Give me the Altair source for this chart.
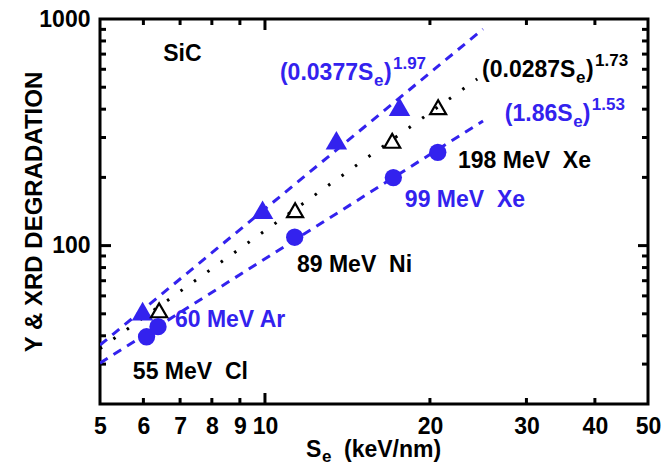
import altair as alt
import pandas as pd

BLUE = "#3322EE"
FONT = "Liberation Sans"

# ---------------- data ----------------
filled_tri_se = [5.98, 9.90, 13.5, 17.6]
filled_tri_y = [51.4, 144.0, 291.5, 410.0]
open_tri_se = [6.41, 11.35, 17.07, 20.7]
open_tri_y = [51.8, 143.3, 290.0, 408.0]
circle_se = [6.08, 6.38, 11.33, 17.15, 20.67]
circle_y = [39.6, 43.9, 108.9, 199.7, 258.0]

fit_upper_se = [5.0, 25.0]
fit_upper_y = [36.4, 903.0]
fit_lower_se = [5.0, 25.0]
fit_lower_y = [30.3, 355.0]
fit_mid_se = [5.0, 24.4]
fit_mid_y = [35.1, 544.0]

x_tick_values = [5, 6, 7, 8, 9, 10, 20, 30, 40, 50]
y_tick_values = [100, 1000]
x_minor_ticks = [6, 7, 8, 9, 20, 30, 40]
x_major_ticks = [10]
y_minor_ticks = [30, 40, 50, 60, 70, 80, 90, 200, 300, 400, 500, 600, 700, 800, 900]
y_major_ticks = [100]

# annotation anchors in data coordinates (Se, Y)
label_sic = (6.52, 653.0)
label_f1 = (10.65, 538.0)
label_f2 = (24.9, 555.0)
label_f3 = (27.4, 355.0)
label_xe198 = (22.5, 220.0)
label_xe99 = (18.0, 148.0)
label_ni89 = (11.44, 76.5)
label_ar60 = (6.85, 43.7)
label_cl55 = (5.74, 25.8)

# ---------------- chart ----------------
W, H = 548, 385
xs = alt.Scale(type="log", domain=[5, 50], nice=False)
ys = alt.Scale(type="log", domain=[20, 1000], nice=False)

xax = alt.Axis(values=x_tick_values, title=None, ticks=False, tickSize=0, domain=False,
               grid=False, labelFont=FONT, labelFontSize=23, labelFontWeight="bold",
               labelColor="black", labelPadding=11, labelFlush=False, labelOverlap=False,
               format="d")
yax = alt.Axis(values=y_tick_values, title="Y & XRD DEGRADATION", titleFont=FONT,
               titleFontSize=24, titleFontWeight="bold", titleColor="black",
               titleX=-59, titleY=192.5, titleAngle=270, titleBaseline="alphabetic",
               titleAlign="center", ticks=False, tickSize=0, domain=False, grid=False,
               labelFont=FONT, labelFontSize=23, labelFontWeight="bold",
               labelColor="black", labelPadding=10, labelFlush=False,
               labelOverlap=False, format="d")


def X():
    return alt.X("Se:Q", scale=xs, axis=xax)


def Y():
    return alt.Y("Y:Q", scale=ys, axis=yax)


layers = []

# inward ticks
def xticks(vals, top, length):
    y0 = 0 if top else H
    y1 = length if top else H - length
    return alt.Chart(pd.DataFrame({"Se": vals})).mark_rule(color="black", strokeWidth=3).encode(
        x=X(), y=alt.value(y0), y2=alt.value(y1))


def yticks(vals, right, length):
    x0 = W if right else 0
    x1 = W - length if right else length
    return alt.Chart(pd.DataFrame({"Y": vals})).mark_rule(color="black", strokeWidth=3).encode(
        y=Y(), x=alt.value(x0), x2=alt.value(x1))


layers += [xticks(x_minor_ticks, False, 6), xticks(x_major_ticks, False, 11),
           xticks(x_minor_ticks, True, 6), xticks(x_major_ticks, True, 11),
           yticks(y_minor_ticks, False, 6), yticks(y_major_ticks, False, 11),
           yticks(y_minor_ticks, True, 6), yticks(y_major_ticks, True, 10)]

# fit lines
blue_lines = pd.DataFrame({
    "Se": fit_upper_se + fit_lower_se,
    "Y": fit_upper_y + fit_lower_y,
    "fit": ["upper"] * len(fit_upper_se) + ["lower"] * len(fit_lower_se),
})
layers.append(alt.Chart(blue_lines).mark_line(color=BLUE, strokeWidth=3, strokeDash=[9, 7], clip=True)
              .encode(x=X(), y=Y(), detail="fit:N"))
layers.append(alt.Chart(pd.DataFrame({"Se": fit_mid_se, "Y": fit_mid_y}))
              .mark_line(color="black", strokeWidth=3, strokeDash=[2.5, 14], clip=True)
              .encode(x=X(), y=Y()))

# markers
layers.append(alt.Chart(pd.DataFrame({"Se": filled_tri_se, "Y": filled_tri_y}))
              .mark_point(shape="triangle-up", filled=True, size=460, color=BLUE, opacity=1, strokeWidth=0)
              .encode(x=X(), y=Y()))
layers.append(alt.Chart(pd.DataFrame({"Se": open_tri_se, "Y": open_tri_y}))
              .mark_point(shape="triangle-up", filled=False, size=256, color="black", opacity=1, strokeWidth=2.2)
              .encode(x=X(), y=Y()))
layers.append(alt.Chart(pd.DataFrame({"Se": circle_se, "Y": circle_y}))
              .mark_circle(size=300, color=BLUE, opacity=1)
              .encode(x=X(), y=Y()))


def txt(anchor, text, color, size=23, dx=0, dy=0):
    return alt.Chart(pd.DataFrame({"Se": [anchor[0]], "Y": [anchor[1]], "t": [text]})).mark_text(
        align="left", baseline="alphabetic", font=FONT, fontSize=size, fontWeight="bold",
        color=color, dx=dx, dy=dy).encode(x=X(), y=Y(), text="t:N")


def ptxt(px, py, text, size=23):
    return alt.Chart(pd.DataFrame({"t": [text]})).mark_text(
        align="left", baseline="alphabetic", font=FONT, fontSize=size, fontWeight="bold",
        color="black").encode(x=alt.value(px), y=alt.value(py), text="t:N")


NB = "\u00a0"
layers += [
    txt(label_sic, "SiC", "black"),
    # (0.0377Se)^1.97
    txt(label_f1, "(0.0377S", BLUE),
    txt(label_f1, "e", BLUE, size=17, dx=94, dy=6),
    txt(label_f1, ")", BLUE, dx=104),
    txt(label_f1, "1.97", BLUE, size=17, dx=113, dy=-11),
    # (0.0287Se)^1.73
    txt(label_f2, "(0.0287S", "black"),
    txt(label_f2, "e", "black", size=17, dx=94, dy=6),
    txt(label_f2, ")", "black", dx=104),
    txt(label_f2, "1.73", "black", size=17, dx=113, dy=-11),
    # (1.86Se)^1.53
    txt(label_f3, "(1.86S", BLUE),
    txt(label_f3, "e", BLUE, size=17, dx=68.5, dy=6),
    txt(label_f3, ")", BLUE, dx=78),
    txt(label_f3, "1.53", BLUE, size=17, dx=87, dy=-11),
    # ion labels
    txt(label_xe198, "198 MeV" + NB + NB + "Xe", "black"),
    txt(label_xe99, "99 MeV" + NB + NB + "Xe", BLUE),
    txt(label_ni89, "89 MeV" + NB + NB + "Ni", "black"),
    txt(label_ar60, "60 MeV Ar", BLUE),
    txt(label_cl55, "55 MeV" + NB + NB + "Cl", "black"),
    # x-axis title  S_e (keV/nm)
    ptxt(206, 438, "S"),
    ptxt(222, 443, "e", size=17),
    ptxt(244, 438, "(keV/nm)"),
]

chart = alt.layer(*layers).properties(
    width=W, height=H,
    autosize=alt.AutoSizeParams(type="none"),
    padding={"left": 100, "top": 19, "right": 17, "bottom": 61},
).configure_view(stroke="black", strokeWidth=3)

chart.save("out.html", embed_options={"renderer": "svg", "actions": False})
